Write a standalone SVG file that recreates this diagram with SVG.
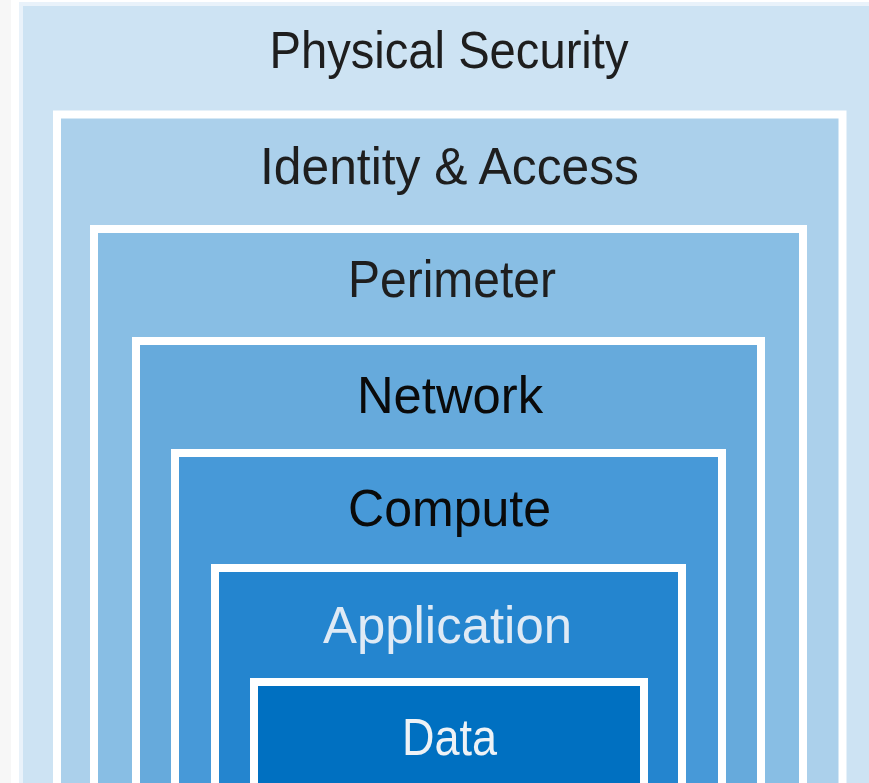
<svg xmlns="http://www.w3.org/2000/svg" width="869" height="783" viewBox="0 0 869 783">
  <style>
    .box { stroke: #ffffff; stroke-width: 8; }
    .lbl { font-family: "Liberation Sans", Arial, sans-serif; font-size: 52px; text-anchor: middle; }
    .dark { fill: #1e1e1e; }
    .black { fill: #0a0a0a; }
    .light { fill: #dfeaf5; }
    .white { fill: #eef2f6; }
  </style>
  <rect x="0" y="0" width="869" height="783" fill="#ffffff"/>
  <rect x="0" y="0" width="11" height="783" fill="#f7f7f7"/>
  <g id="physical-security">
    <rect x="19" y="2" width="860" height="790" fill="#e9f2fa"/>
    <rect x="23" y="6" width="856" height="786" fill="#cde3f3"/>
    <text class="lbl dark" x="449" y="68" textLength="359" lengthAdjust="spacingAndGlyphs">Physical Security</text>
  </g>
  <g id="identity-access">
    <rect class="box" x="57" y="114.5" width="785.5" height="700" fill="#abd0eb"/>
    <text class="lbl dark" x="449.5" y="184" textLength="379" lengthAdjust="spacingAndGlyphs">Identity &amp; Access</text>
  </g>
  <g id="perimeter">
    <rect class="box" x="94" y="229" width="709" height="600" fill="#88bee4"/>
    <text class="lbl dark" x="452" y="297" textLength="208" lengthAdjust="spacingAndGlyphs">Perimeter</text>
  </g>
  <g id="network">
    <rect class="box" x="136" y="341" width="625" height="500" fill="#66aadc"/>
    <text class="lbl black" x="450" y="413" textLength="186" lengthAdjust="spacingAndGlyphs">Network</text>
  </g>
  <g id="compute">
    <rect class="box" x="175" y="453" width="547" height="400" fill="#4799d8"/>
    <text class="lbl black" x="449.5" y="526" textLength="203" lengthAdjust="spacingAndGlyphs">Compute</text>
  </g>
  <g id="application">
    <rect class="box" x="215" y="568" width="467" height="300" fill="#2485cf"/>
    <text class="lbl light" x="447.5" y="643" textLength="249" lengthAdjust="spacingAndGlyphs">Application</text>
  </g>
  <g id="data">
    <rect class="box" x="254" y="682" width="390" height="200" fill="#0070c1"/>
    <text class="lbl white" x="449.5" y="755" textLength="95" lengthAdjust="spacingAndGlyphs">Data</text>
  </g>
</svg>
